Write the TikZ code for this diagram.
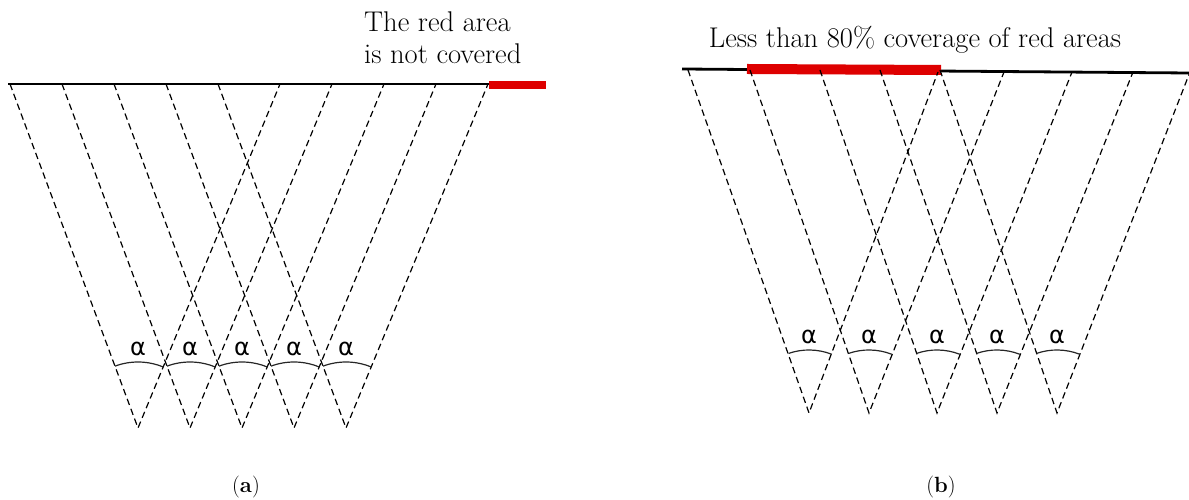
\documentclass[tikz,border=0pt]{standalone}
\usepackage{fontspec}
\newfontfamily\alphafont{DejaVu Sans}
\usetikzlibrary{calc}
\definecolor{CoverRed}{RGB}{222,0,0}

\begin{document}
\begin{tikzpicture}[x=1pt, y=1pt,
	rayo/.style={dash pattern=on 6.5pt off 4pt, line width=1.2pt},
	suelo/.style={line width=2.8pt, black},
	rojo/.style={line width=8pt, CoverRed},
	arco/.style={line width=1.2pt, black!85},
	angulo/.style={font=\alphafont\fontsize{24}{24}\selectfont, inner sep=0pt},
	rotulo/.style={font=\fontsize{28.5}{32}\selectfont, inner sep=0pt},
	pie/.style={font=\fontsize{22}{22}\selectfont, inner sep=0pt}]
	\useasboundingbox (0,0) rectangle (1189,500);
	% (a)
	\coordinate (a0) at (8,416);
	\coordinate (a1) at (489,416);
	\coordinate (a2) at (546,415);
	\draw[suelo] (a0) -- (a1);
	\draw[rojo] (a1|-a2) -- (a2);
	\foreach \i in {0,...,4} {
		\coordinate (pa\i) at (138+52*\i,72);
		\draw[rayo] ($(pa\i)+(-128,344)$) -- (pa\i) -- ($(pa\i)+(142,344)$);
		\draw[arco] ($(pa\i)+(67.6:66)$) arc[start angle=67.6, end angle=110.4, radius=66];
		\node[angulo] (alfa\i) at ($(pa\i)+(0,79)$) {α};
	}
	\node[rotulo, anchor=north west, align=left] (nota) at (364,488) {The red area\\is not covered};
	\node[pie] (capa) at (246,13) {(\textbf{a})};
	% (b)
	\coordinate (b0) at (682,431);
	\coordinate (b1) at (1189,427);
	\coordinate (b2) at (747,431);
	\coordinate (b3) at (941,430);
	\draw[suelo] (b0) -- (b1);
	\draw[rojo, line width=10pt] (b2) -- (b3);
	\foreach \x/\l/\r [count=\i] in {809/121/129, 869/119/135, 937/117/135, 997/117/136, 1057/117/133} {
		\coordinate (pb\i) at (\x,87);
		\draw[rayo] ($(pb\i)+(-\l,343)$) -- (pb\i) -- ($(pb\i)+(\r,341)$);
		\draw[arco] ($(pb\i)+(68.7:63)$) arc[start angle=68.7, end angle=109, radius=63];
		\node[angulo] (alfb\i) at ($(pb\i)+(0,76)$) {α};
	}
	\node[rotulo, anchor=base] (notb) at (915,452) {Less than 80\% coverage of red areas};
	\node[pie] (capb) at (941,13) {(\textbf{b})};
\end{tikzpicture}
\end{document}
